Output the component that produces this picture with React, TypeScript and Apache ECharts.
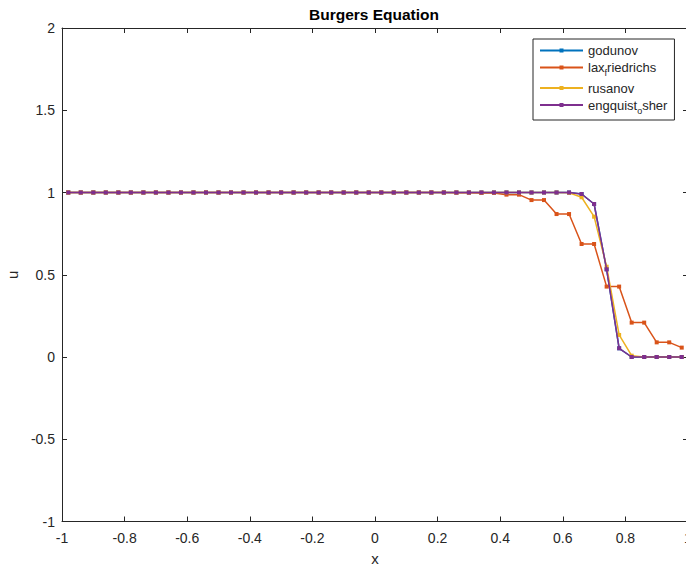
import React, { useEffect, useRef } from "react";
import * as echarts from "echarts";

// Cell centres of the 50-cell grid on [-1, 1]
const xs = [
  -0.98, -0.94, -0.9, -0.86, -0.82, -0.78, -0.74, -0.7, -0.66, -0.62,
  -0.58, -0.54, -0.5, -0.46, -0.42, -0.38, -0.34, -0.3, -0.26, -0.22,
  -0.18, -0.14, -0.1, -0.06, -0.02, 0.02, 0.06, 0.1, 0.14, 0.18,
  0.22, 0.26, 0.3, 0.34, 0.38, 0.42, 0.46, 0.5, 0.54, 0.58,
  0.62, 0.66, 0.7, 0.74, 0.78, 0.82, 0.86, 0.9, 0.94, 0.98,
];

const godunov = [
  1, 1, 1, 1, 1, 1, 1, 1, 1, 1,
  1, 1, 1, 1, 1, 1, 1, 1, 1, 1,
  1, 1, 1, 1, 1, 1, 1, 1, 1, 1,
  1, 1, 1, 1, 1, 1, 1, 1, 1, 1,
  1, 0.991, 0.93, 0.533, 0.053, 0, 0, 0, 0, 0,
];

const laxFriedrichs = [
  1, 1, 1, 1, 1, 1, 1, 1, 1, 1,
  1, 1, 1, 1, 1, 1, 1, 1, 1, 1,
  1, 1, 1, 1, 1, 1, 1, 1, 1, 1,
  1, 0.999, 0.999, 0.997, 0.997, 0.987, 0.987, 0.954, 0.954, 0.869,
  0.869, 0.687, 0.687, 0.428, 0.428, 0.209, 0.209, 0.089, 0.089, 0.057,
];

const rusanov = [
  1, 1, 1, 1, 1, 1, 1, 1, 1, 1,
  1, 1, 1, 1, 1, 1, 1, 1, 1, 1,
  1, 1, 1, 1, 1, 1, 1, 1, 1, 1,
  1, 1, 1, 1, 1, 1, 1, 1, 1, 1,
  0.998, 0.971, 0.853, 0.549, 0.134, 0.008, 0, 0, 0, 0,
];

const engquistOsher = [
  1, 1, 1, 1, 1, 1, 1, 1, 1, 1,
  1, 1, 1, 1, 1, 1, 1, 1, 1, 1,
  1, 1, 1, 1, 1, 1, 1, 1, 1, 1,
  1, 1, 1, 1, 1, 1, 1, 1, 1, 1,
  1, 0.991, 0.93, 0.533, 0.053, 0, 0, 0, 0, 0,
];

const seriesNames = ["godunov", "lax_friedrichs", "rusanov", "engquist_osher"];
const seriesValues = [godunov, laxFriedrichs, rusanov, engquistOsher];
const seriesColors = ["#0072BD", "#D95319", "#EDB120", "#7E2F8E"];

const FONT = "'Liberation Sans', Arial, Helvetica, sans-serif";
const INK = "#262626";

// "a_bcd" -> "a" followed by a subscript "b", then "cd"
function legendLabel(name: string): string {
  const i = name.indexOf("_");
  if (i < 0) return name;
  return name.slice(0, i) + "{sub|" + name[i + 1] + "}" + name.slice(i + 2);
}

export default function App() {
  const ref = useRef<HTMLDivElement>(null);

  useEffect(() => {
    if (!ref.current) return;
    const chart = echarts.init(ref.current, null, { renderer: "svg" });

    const axisLine = { show: true, onZero: false, lineStyle: { color: INK, width: 1 } };
    const axisTick = { show: true, inside: true, length: 5, lineStyle: { color: INK, width: 1 } };
    const axisLabel = { color: INK, fontSize: 14, fontFamily: FONT };

    chart.setOption({
      animation: false,
      backgroundColor: "#ffffff",
      title: {
        text: "Burgers Equation",
        left: 369,
        textAlign: "center",
        top: 1,
        textStyle: { fontSize: 15.5, fontWeight: "bold", color: "#000", fontFamily: FONT },
      },
      grid: {
        left: 62,
        top: 28,
        right: -2,
        bottom: 42.5,
        containLabel: false,
        outerBoundsMode: "none",
      },
      legend: {
        orient: "vertical",
        left: 533,
        top: 39,
        padding: [5, 7, 5, 6],
        itemWidth: 43,
        itemHeight: 5,
        itemGap: 4,
        borderColor: INK,
        borderWidth: 1,
        backgroundColor: "#ffffff",
        formatter: (name: string) => legendLabel(name),
        textStyle: {
          fontSize: 13,
          color: INK,
          fontFamily: FONT,
          rich: {
            sub: { fontSize: 9, color: INK, fontFamily: FONT, lineHeight: 20, verticalAlign: "bottom" },
          },
        },
        data: seriesNames,
      },
      xAxis: [
        {
          type: "value",
          min: -1,
          max: 1,
          interval: 0.2,
          position: "bottom",
          axisLine,
          axisTick,
          axisLabel: { ...axisLabel, margin: 9 },
          splitLine: { show: false },
          name: "x",
          nameLocation: "middle",
          nameGap: 29,
          nameTextStyle: { color: INK, fontSize: 15, fontFamily: FONT },
        },
        {
          type: "value",
          min: -1,
          max: 1,
          interval: 0.2,
          position: "top",
          axisLine,
          axisTick,
          axisLabel: { show: false },
          splitLine: { show: false },
        },
      ],
      yAxis: [
        {
          type: "value",
          min: -1,
          max: 2,
          interval: 0.5,
          position: "left",
          axisLine,
          axisTick,
          axisLabel: { ...axisLabel, margin: 7 },
          splitLine: { show: false },
          name: "u",
          nameLocation: "middle",
          nameGap: 40,
          nameTextStyle: { color: INK, fontSize: 15, fontFamily: FONT },
        },
        {
          type: "value",
          min: -1,
          max: 2,
          interval: 0.5,
          position: "right",
          axisLine,
          axisTick,
          axisLabel: { show: false },
          splitLine: { show: false },
        },
      ],
      series: seriesNames.map((name, k) => ({
        name,
        type: "line",
        xAxisIndex: 0,
        yAxisIndex: 0,
        data: xs.map((x, i) => [x, seriesValues[k][i]]),
        symbol: "rect",
        symbolSize: 4,
        showSymbol: true,
        color: seriesColors[k],
        lineStyle: { color: seriesColors[k], width: 1.5 },
        itemStyle: { color: seriesColors[k] },
        z: 2 + k,
      })),
    });

    return () => chart.dispose();
  }, []);

  return (
    <div
      ref={ref}
      style={{ position: "fixed", left: 0, top: 0, width: 686, height: 564, background: "#fff" }}
    />
  );
}
